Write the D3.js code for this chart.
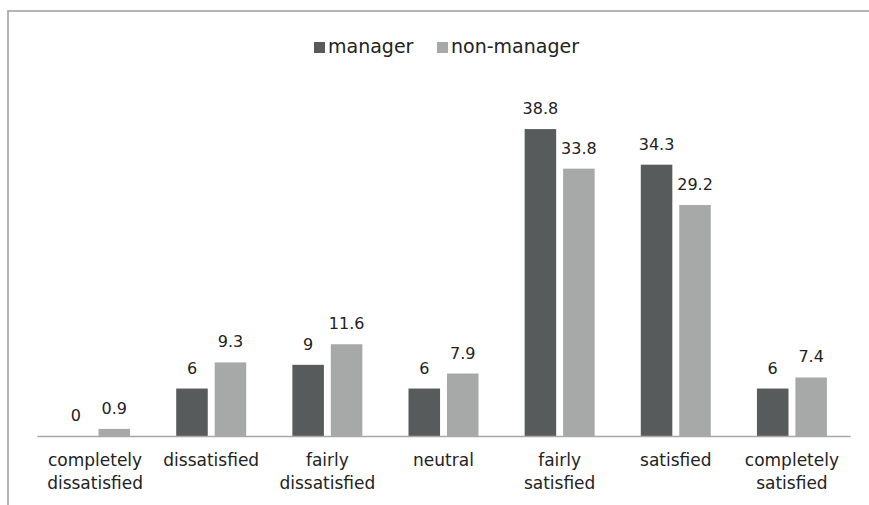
<!DOCTYPE html>
<html>
<head>
<meta charset="utf-8">
<script src="https://cdn.jsdelivr.net/npm/d3@7/dist/d3.min.js"></script>
<style>
  html, body { margin: 0; padding: 0; background: #fff; }
  svg { display: block; }
  text { font-family: "DejaVu Sans", sans-serif; fill: #222; }
</style>
</head>
<body>
<svg id="chart" width="869" height="505"></svg>
<script>
const categories = [
  ["completely", "dissatisfied"],
  ["dissatisfied"],
  ["fairly", "dissatisfied"],
  ["neutral"],
  ["fairly", "satisfied"],
  ["satisfied"],
  ["completely", "satisfied"]
];
const seriesNames = ["manager", "non-manager"];
const managerValues = [0, 6, 9, 6, 38.8, 34.3, 6];
const nonManagerValues = [0.9, 9.3, 11.6, 7.9, 33.8, 29.2, 7.4];
const seriesColors = ["#575b5b", "#a7a9a9"];

const svg = d3.select("#chart");
const catKeys = categories.map(c => c.join(" "));
const series = [managerValues, nonManagerValues];

// frame
svg.append("rect")
  .attr("x", 8).attr("y", 11)
  .attr("width", 900).attr("height", 600)
  .attr("fill", "none")
  .attr("stroke", "#a2a2a2")
  .attr("stroke-width", 1.6);

const x0 = d3.scaleBand().domain(catKeys).range([37, 850]).paddingInner(0).paddingOuter(0);
const x1 = d3.scaleBand().domain(seriesNames).range([0, x0.bandwidth()]).paddingInner(0.18).paddingOuter(0.6);
const y = d3.scaleLinear().domain([0, 50]).range([436, 40.5]);

const groups = svg.append("g").selectAll("g")
  .data(catKeys)
  .join("g")
  .attr("transform", d => `translate(${x0(d)},0)`);

groups.each(function(cat, ci) {
  const g = d3.select(this);
  seriesNames.forEach((s, si) => {
    const v = series[si][ci];
    g.append("rect")
      .attr("x", x1(s))
      .attr("y", y(v))
      .attr("width", x1.bandwidth())
      .attr("height", y(0) - y(v))
      .attr("fill", seriesColors[si]);
    g.append("text")
      .attr("x", x1(s) + x1.bandwidth() / 2)
      .attr("y", y(v) - 15)
      .attr("text-anchor", "middle")
      .attr("font-size", 16)
      .text(v);
  });
});

// axis line
const xAxis = d3.axisBottom(x0).tickSize(0).tickFormat("");
const axisG = svg.append("g").attr("transform", `translate(0,${y(0)})`).call(xAxis);
axisG.select(".domain").attr("stroke", "#a8a8a8").attr("stroke-width", 1.6);

// category labels
categories.forEach((lines, i) => {
  const t = svg.append("text")
    .attr("x", x0(catKeys[i]) + x0.bandwidth() / 2)
    .attr("y", 466)
    .attr("text-anchor", "middle")
    .attr("font-size", 17);
  lines.forEach((ln, j) => {
    t.append("tspan")
      .attr("x", x0(catKeys[i]) + x0.bandwidth() / 2)
      .attr("dy", j === 0 ? 0 : 23)
      .text(ln);
  });
});

// legend
const legendX = [314, 437];
seriesNames.forEach((s, i) => {
  svg.append("rect")
    .attr("x", legendX[i]).attr("y", 42)
    .attr("width", 11).attr("height", 11)
    .attr("fill", seriesColors[i]);
  svg.append("text")
    .attr("x", legendX[i] + 14)
    .attr("y", 53)
    .attr("font-size", 19)
    .text(s);
});
</script>
</body>
</html>
